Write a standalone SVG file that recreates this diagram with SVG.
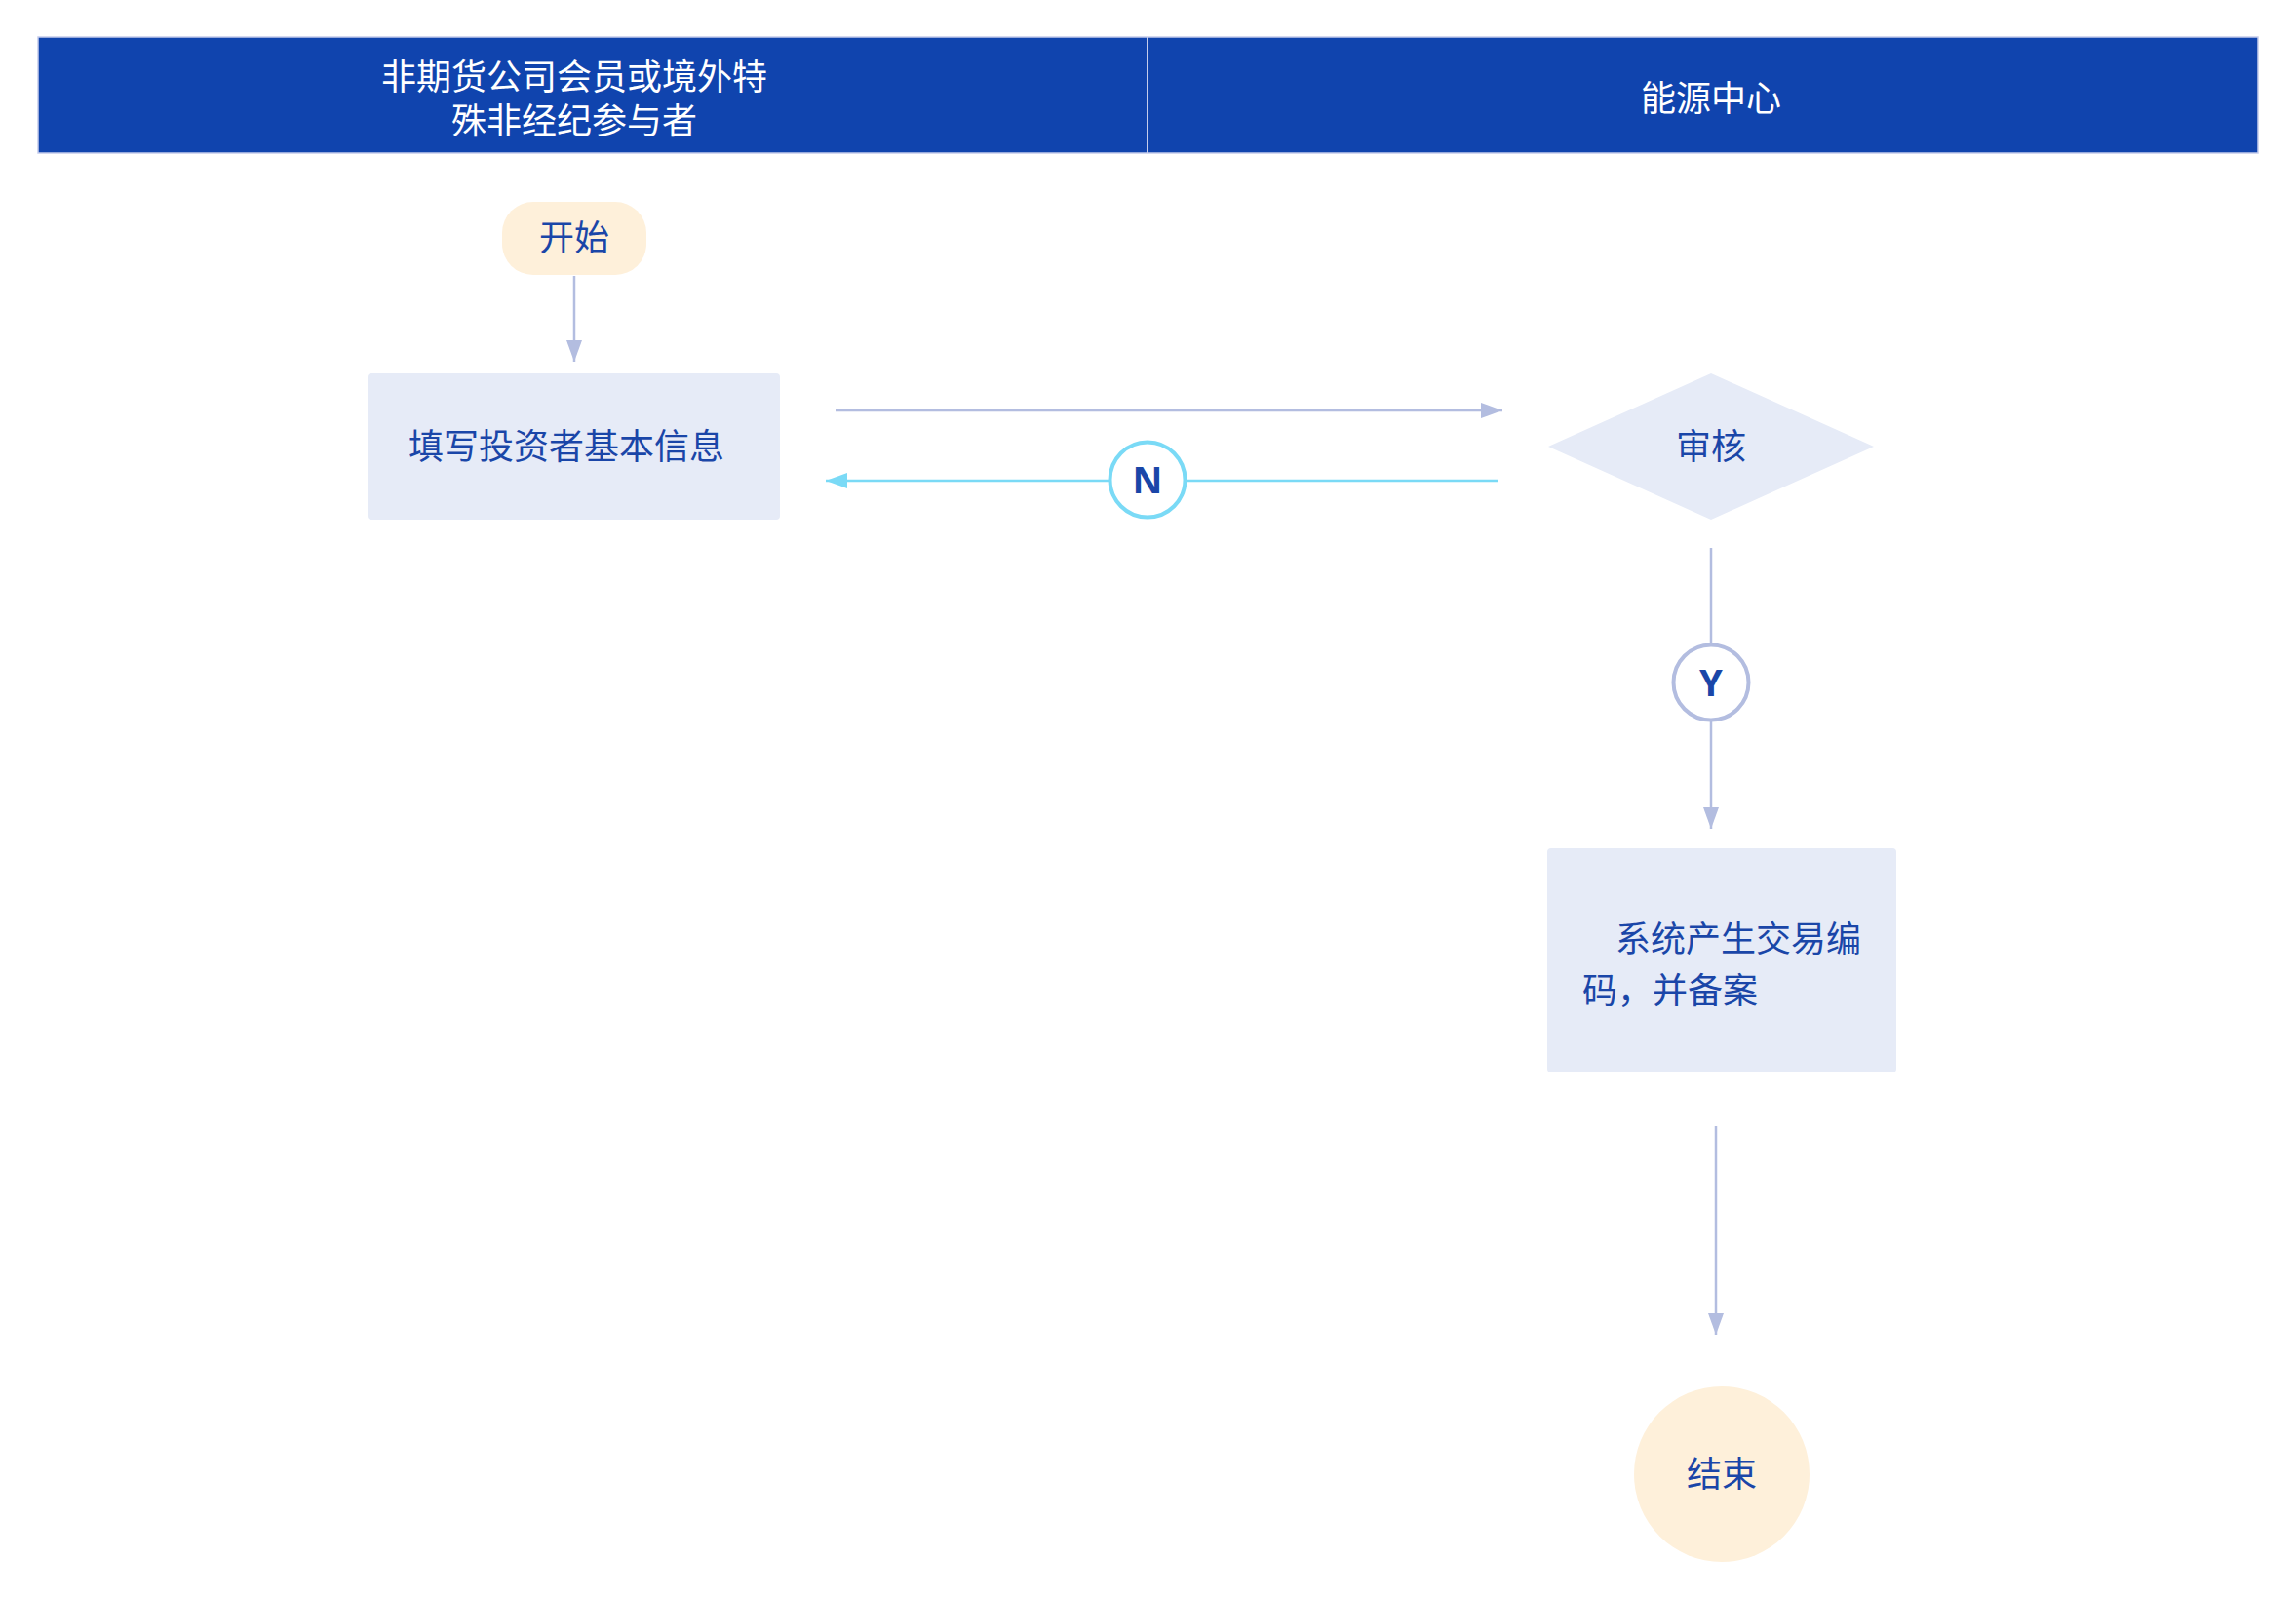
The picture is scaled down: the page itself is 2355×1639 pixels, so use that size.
<svg xmlns="http://www.w3.org/2000/svg" width="2355" height="1639" viewBox="0 0 2355 1639">
<defs>
<style>
.hdr{fill:#1044AE;}
.hdrtxt{fill:#FFFFFF;font-family:"Noto Sans CJK SC","Noto Sans",sans-serif;font-size:36px;text-anchor:middle;}
.txt{fill:#1A46A8;font-family:"Noto Sans CJK SC","Noto Sans",sans-serif;font-size:36px;}
.lbl{fill:#1A46A8;font-family:"Noto Sans","Liberation Sans",sans-serif;font-size:38px;font-weight:bold;text-anchor:middle;}
.box{fill:#E6EBF7;}
.term{fill:#FEF0DA;}
.ln{stroke:#B3BDE0;stroke-width:2.5;fill:none;}
.lnc{stroke:#7ADAF6;stroke-width:2.5;fill:none;}
</style>
<marker id="ah" viewBox="0 0 22 16" refX="22" refY="8" markerWidth="22" markerHeight="16" markerUnits="userSpaceOnUse" orient="auto">
<path d="M0,0 L22,8 L0,16 Z" fill="#B3BDE0"/>
</marker>
<marker id="ahc" viewBox="0 0 22 16" refX="22" refY="8" markerWidth="22" markerHeight="16" markerUnits="userSpaceOnUse" orient="auto">
<path d="M0,0 L22,8 L0,16 Z" fill="#7ADAF6"/>
</marker>
</defs>
<rect width="2355" height="1639" fill="#FFFFFF"/>
<g id="header">
<rect class="hdr" x="39" y="38" width="2277" height="119" stroke="#C5CCEB" stroke-width="1.5"/>
<line x1="1177" y1="38" x2="1177" y2="157" stroke="#C5CCEB" stroke-width="2"/>
<text class="hdrtxt"><tspan x="589" y="92">非期货公司会员或境外特</tspan><tspan x="589" y="137">殊非经纪参与者</tspan></text>
<text class="hdrtxt" x="1755" y="114">能源中心</text>
</g>
<g id="connectors">
<line class="ln" x1="589" y1="283" x2="589" y2="371" marker-end="url(#ah)"/>
<line class="ln" x1="857" y1="421" x2="1541" y2="421" marker-end="url(#ah)"/>
<line class="lnc" x1="1536" y1="493" x2="847" y2="493" marker-end="url(#ahc)"/>
<line class="ln" x1="1755" y1="562" x2="1755" y2="660"/>
<line class="ln" x1="1755" y1="740" x2="1755" y2="850" marker-end="url(#ah)"/>
<line class="ln" x1="1760" y1="1155" x2="1760" y2="1369" marker-end="url(#ah)"/>
</g>
<g id="start">
<rect class="term" x="515" y="207" width="148" height="75" rx="32" ry="32"/>
<text class="txt" x="589" y="257" text-anchor="middle">开始</text>
</g>
<g id="fill-info">
<rect class="box" x="377" y="383" width="423" height="150" rx="4"/>
<text class="txt" x="419" y="471">填写投资者基本信息</text>
</g>
<g id="review">
<polygon class="box" points="1755,383 1922,458 1755,533 1588,458"/>
<text class="txt" x="1755" y="471" text-anchor="middle">审核</text>
</g>
<g id="label-n">
<circle cx="1177" cy="492" r="38.5" fill="#FFFFFF" stroke="#7ADAF6" stroke-width="4"/>
<text class="lbl" x="1177" y="506">N</text>
</g>
<g id="label-y">
<circle cx="1755" cy="700" r="38.5" fill="#FFFFFF" stroke="#B3BDE0" stroke-width="4"/>
<text class="lbl" x="1755" y="714">Y</text>
</g>
<g id="generate-code">
<rect class="box" x="1587" y="870" width="358" height="230" rx="4"/>
<text class="txt"><tspan x="1657" y="976">系统产生交易编</tspan><tspan x="1623" y="1029">码，并备案</tspan></text>
</g>
<g id="end">
<circle class="term" cx="1766" cy="1512" r="90"/>
<text class="txt" x="1766" y="1525" text-anchor="middle">结束</text>
</g>
</svg>
